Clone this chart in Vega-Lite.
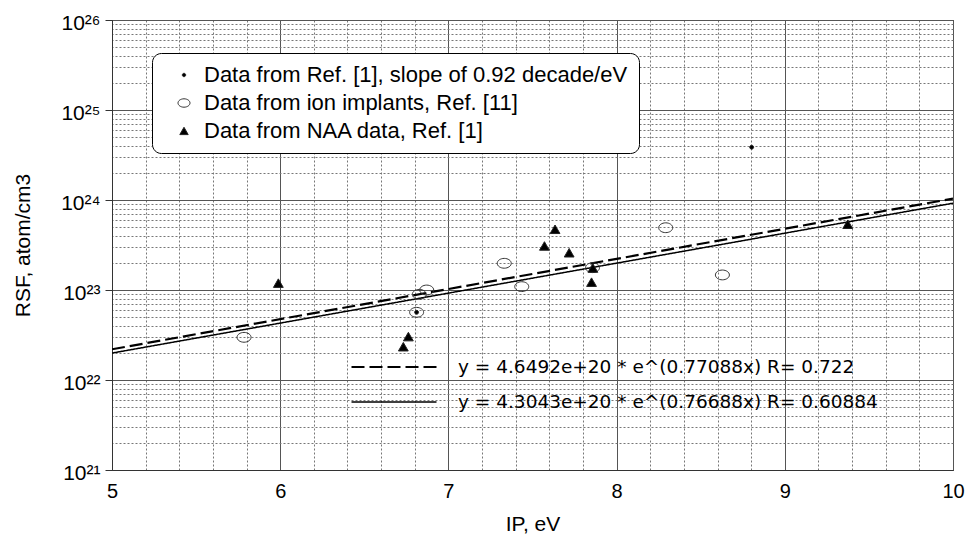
{
  "$schema": "https://vega.github.io/schema/vega-lite/v6.json",
  "width": 841,
  "height": 450,
  "autosize": {"type": "none"},
  "padding": {"left": 112, "top": 20, "right": 12, "bottom": 70},
  "background": "white",
  "config": {
    "font": "Liberation Sans",
    "view": {"stroke": "#222", "strokeWidth": 1}
  },
  "resolve": {"axis": {"x": "independent", "y": "independent"}},
  "layer": [
    {
      "data": {
        "values": [
          {"fit": "y = 4.6492e+20 * e^(0.77088x) R= 0.722", "ip": 5, "rsf": 2.1945e22},
          {"fit": "y = 4.6492e+20 * e^(0.77088x) R= 0.722", "ip": 10, "rsf": 1.0358e24},
          {"fit": "y = 4.3043e+20 * e^(0.76688x) R= 0.60884", "ip": 5, "rsf": 1.9914e22},
          {"fit": "y = 4.3043e+20 * e^(0.76688x) R= 0.60884", "ip": 10, "rsf": 9.213e23}
        ]
      },
      "mark": {"type": "line", "color": "black", "clip": true},
      "encoding": {
        "x": {
          "field": "ip",
          "type": "quantitative",
          "scale": {"domain": [5, 10], "nice": false, "zero": false},
          "axis": {
            "orient": "bottom",
            "values": [5, 6, 7, 8, 9, 10],
            "format": "d",
            "title": "IP, eV",
            "titleFontSize": 21,
            "titleFontWeight": "normal",
            "titleColor": "black",
            "titleBaseline": "top",
            "titleY": 43,
            "labelFontSize": 20,
            "labelColor": "black",
            "labelPadding": 11,
            "labelFlush": false,
            "labelOverlap": false,
            "ticks": false,
            "domainColor": "#333",
            "grid": true,
            "gridOpacity": 1,
            "gridWidth": 1,
            "gridColor": "#555"
          }
        },
        "y": {
          "field": "rsf",
          "type": "quantitative",
          "scale": {"type": "log", "domain": [1e21, 1e26], "nice": false},
          "axis": {
            "orient": "left",
            "values": [1e21, 1e22, 1e23, 1e24, 1e25, 1e26],
            "title": "RSF, atom/cm3",
            "titleFontSize": 21,
            "titleFontWeight": "normal",
            "titleColor": "black",
            "titleX": -79,
            "labelFontSize": 21,
            "labelColor": "black",
            "labelPadding": 5,
            "labelOffset": 3,
            "labelFlush": false,
            "labelOverlap": false,
            "labelExpr": "datum.value == 1e21 ? '10²¹' : datum.value == 1e22 ? '10²²' : datum.value == 1e23 ? '10²³' : datum.value == 1e24 ? '10²⁴' : datum.value == 1e25 ? '10²⁵' : datum.value == 1e26 ? '10²⁶' : ''",
            "tickColor": "#333",
            "tickSize": 7,
            "domainColor": "#333",
            "grid": true,
            "gridOpacity": 1,
            "gridWidth": 1,
            "gridColor": "#555"
          }
        },
        "strokeDash": {
          "field": "fit",
          "type": "nominal",
          "scale": {
            "domain": ["y = 4.6492e+20 * e^(0.77088x) R= 0.722", "y = 4.3043e+20 * e^(0.76688x) R= 0.60884"],
            "range": [[13, 5], [1, 0]]
          },
          "legend": {
            "title": null,
            "orient": "none",
            "legendX": 238,
            "legendY": 337,
            "padding": 0,
            "symbolType": "stroke",
            "symbolSize": 7225,
            "symbolStrokeWidth": 2,
            "symbolStrokeColor": "black",
            "clipHeight": 20,
            "labelFont": "DejaVu Sans",
            "labelFontSize": 18.5,
            "labelColor": "black",
            "labelOffset": 20,
            "rowPadding": 15,
            "labelLimit": 800
          }
        },
        "strokeWidth": {
          "field": "fit",
          "type": "ordinal",
          "scale": {
            "domain": ["y = 4.6492e+20 * e^(0.77088x) R= 0.722", "y = 4.3043e+20 * e^(0.76688x) R= 0.60884"],
            "range": [2.2, 1.5]
          },
          "legend": null
        }
      }
    },
    {
      "data": {
        "values": [
          {"series": "Data from Ref. [1], slope of 0.92 decade/eV", "ip": 8.803, "rsf": 3.86e24},
          {"series": "Data from Ref. [1], slope of 0.92 decade/eV", "ip": 6.811, "rsf": 5.65e22},
          {"series": "Data from Ref. [1], slope of 0.92 decade/eV", "ip": 7.857, "rsf": 1.77e23},
          {"series": "Data from ion implants, Ref. [11]", "ip": 5.785, "rsf": 2.98e22},
          {"series": "Data from ion implants, Ref. [11]", "ip": 6.871, "rsf": 1.0e23},
          {"series": "Data from ion implants, Ref. [11]", "ip": 6.827, "rsf": 8.95e22},
          {"series": "Data from ion implants, Ref. [11]", "ip": 6.811, "rsf": 5.65e22},
          {"series": "Data from ion implants, Ref. [11]", "ip": 7.332, "rsf": 1.98e23},
          {"series": "Data from ion implants, Ref. [11]", "ip": 7.436, "rsf": 1.09e23},
          {"series": "Data from ion implants, Ref. [11]", "ip": 7.857, "rsf": 1.77e23},
          {"series": "Data from ion implants, Ref. [11]", "ip": 8.292, "rsf": 4.92e23},
          {"series": "Data from ion implants, Ref. [11]", "ip": 8.629, "rsf": 1.47e23},
          {"series": "Data from NAA data, Ref. [1]", "ip": 5.989, "rsf": 1.19e23},
          {"series": "Data from NAA data, Ref. [1]", "ip": 6.762, "rsf": 3.03e22},
          {"series": "Data from NAA data, Ref. [1]", "ip": 6.732, "rsf": 2.34e22},
          {"series": "Data from NAA data, Ref. [1]", "ip": 7.571, "rsf": 3.08e23},
          {"series": "Data from NAA data, Ref. [1]", "ip": 7.634, "rsf": 4.72e23},
          {"series": "Data from NAA data, Ref. [1]", "ip": 7.718, "rsf": 2.59e23},
          {"series": "Data from NAA data, Ref. [1]", "ip": 7.851, "rsf": 1.22e23},
          {"series": "Data from NAA data, Ref. [1]", "ip": 7.859, "rsf": 1.75e23},
          {"series": "Data from NAA data, Ref. [1]", "ip": 9.374, "rsf": 5.37e23}
        ]
      },
      "mark": {"type": "point", "filled": true, "strokeWidth": 1, "opacity": 1, "size": 196, "clip": true},
      "encoding": {
        "x": {
          "field": "ip",
          "type": "quantitative",
          "axis": {
            "orient": "top",
            "values": [5.2, 5.4, 5.6, 5.8, 6.2, 6.4, 6.6, 6.8, 7.2, 7.4, 7.6, 7.8, 8.2, 8.4, 8.6, 8.8, 9.2, 9.4, 9.6, 9.8],
            "title": null,
            "labels": false,
            "ticks": false,
            "domain": false,
            "grid": true,
            "gridOpacity": 1,
            "gridWidth": 1,
            "gridColor": "#777",
            "gridDash": [2, 2]
          }
        },
        "y": {
          "field": "rsf",
          "type": "quantitative",
          "axis": {
            "orient": "right",
            "values": [2e21, 3e21, 4e21, 5e21, 6e21, 7e21, 8e21, 9e21, 2e22, 3e22, 4e22, 5e22, 6e22, 7e22, 8e22, 9e22, 2e23, 3e23, 4e23, 5e23, 6e23, 7e23, 8e23, 9e23, 2e24, 3e24, 4e24, 5e24, 6e24, 7e24, 8e24, 9e24, 2e25, 3e25, 4e25, 5e25, 6e25, 7e25, 8e25, 9e25],
            "title": null,
            "labels": false,
            "ticks": false,
            "domain": false,
            "grid": true,
            "gridOpacity": 1,
            "gridWidth": 1,
            "gridColor": "#777",
            "gridDash": [2, 2]
          }
        },
        "shape": {
          "field": "series",
          "type": "nominal",
          "scale": {
            "domain": ["Data from Ref. [1], slope of 0.92 decade/eV", "Data from ion implants, Ref. [11]", "Data from NAA data, Ref. [1]"],
            "range": [
              "M -0.28 0 A 0.28 0.28 0 1 1 0.28 0 A 0.28 0.28 0 1 1 -0.28 0 Z",
              "M -1 0 A 1 0.7 0 1 1 1 0 A 1 0.7 0 1 1 -1 0 Z",
              "M 0 -0.62 L 0.7 0.6 L -0.7 0.6 Z"
            ]
          },
          "legend": {
            "title": null,
            "orient": "none",
            "legendX": 40,
            "legendY": 33,
            "padding": 11,
            "symbolOffset": 10,
            "labelOffset": 9,
            "labelFont": "Liberation Sans",
            "labelFontSize": 22,
            "labelColor": "black",
            "rowPadding": 6,
            "strokeColor": "black",
            "fillColor": "white",
            "cornerRadius": 9,
            "symbolSize": 144,
            "symbolStrokeWidth": 1,
            "labelLimit": 700
          }
        },
        "fill": {
          "field": "series",
          "type": "nominal",
          "scale": {
            "domain": ["Data from Ref. [1], slope of 0.92 decade/eV", "Data from ion implants, Ref. [11]", "Data from NAA data, Ref. [1]"],
            "range": ["black", "transparent", "black"]
          }
        },
        "stroke": {
          "field": "series",
          "type": "nominal",
          "scale": {
            "domain": ["Data from Ref. [1], slope of 0.92 decade/eV", "Data from ion implants, Ref. [11]", "Data from NAA data, Ref. [1]"],
            "range": ["#222", "#333", "#222"]
          }
        }
      }
    }
  ]
}
